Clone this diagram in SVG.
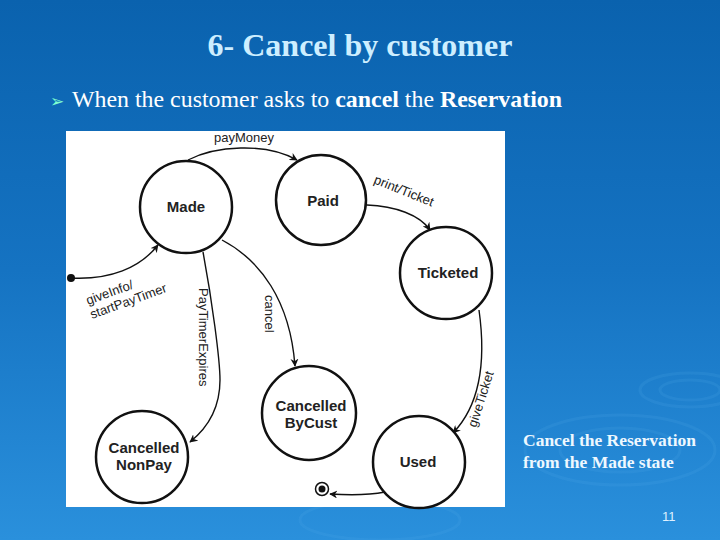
<svg xmlns="http://www.w3.org/2000/svg" width="720" height="540" viewBox="0 0 720 540">
<defs>
<linearGradient id="bg" x1="0" y1="0" x2="0" y2="1">
<stop offset="0" stop-color="#0a62ae"/>
<stop offset="0.5" stop-color="#1573c2"/>
<stop offset="1" stop-color="#2a90dc"/>
</linearGradient>
<marker id="ah" viewBox="0 0 10 10" refX="9" refY="5" markerWidth="8" markerHeight="8" orient="auto" markerUnits="userSpaceOnUse">
<path d="M0,0 L10,5 L0,10 L3,5 Z" fill="#111"/>
</marker>
<style>
.st{fill:#fff;stroke:#111;stroke-width:2.5}
.nl{font-family:"Liberation Sans",Arial,sans-serif;font-weight:bold;font-size:15px;fill:#222;text-anchor:middle}
.el{font-family:"Liberation Sans",Arial,sans-serif;font-size:13px;fill:#222}
.cn{fill:none;stroke:#111;stroke-width:1.4;marker-end:url(#ah)}
.ripple{fill:none;stroke:#5ab0ec;stroke-opacity:0.15;stroke-width:3}
</style>
</defs>
<rect width="720" height="540" fill="url(#bg)"/>
<g id="ripples">
<ellipse class="ripple" cx="690" cy="390" rx="30" ry="10"/>
<ellipse class="ripple" cx="690" cy="390" rx="50" ry="17"/>
<ellipse class="ripple" cx="620" cy="450" rx="60" ry="22"/>
<ellipse class="ripple" cx="620" cy="450" rx="95" ry="35"/>
<ellipse class="ripple" cx="380" cy="520" rx="80" ry="20"/>
</g>
<text x="360" y="56" font-family="Liberation Serif,Times New Roman,serif" font-weight="bold" font-size="32" fill="#cdeeff" text-anchor="middle">6- Cancel by customer</text>
<text x="50" y="107" font-family="DejaVu Sans,sans-serif" font-size="17" fill="#7fffd0">➢</text>
<text x="72" y="107" font-family="Liberation Serif,Times New Roman,serif" font-size="23" fill="#fff" textLength="490" lengthAdjust="spacingAndGlyphs">When the customer asks to <tspan font-weight="bold">cancel</tspan> the <tspan font-weight="bold">Reservation</tspan></text>
<rect x="66" y="131" width="439" height="376" fill="#fff"/>
<g id="connectors">
<path class="cn" d="M188,160 C215,146 265,142 297,160"/>
<path class="cn" d="M367,205 C395,206 420,215 430,230"/>
<path class="cn" d="M479,310 C486,360 480,405 453,433"/>
<path class="cn" d="M385,492 C365,496 345,495 330,494"/>
<path class="cn" d="M71,278 C110,280 140,268 158,245"/>
<path class="cn" d="M203,252 C212,300 220,360 220,380 C220,410 205,430 190,442"/>
<path class="cn" d="M222,240 C260,260 290,300 295,366"/>
<circle cx="71" cy="278" r="4" fill="#111"/>
<text class="el" x="244" y="142" text-anchor="middle">payMoney</text>
<text class="el" transform="translate(373,183) rotate(22)">print/Ticket</text>
<text class="el" transform="translate(476,428) rotate(-72)">giveTicket</text>
<text class="el" transform="translate(88,305) rotate(-20)">giveInfo/</text>
<text class="el" transform="translate(92,319) rotate(-20)">startPayTimer</text>
<text class="el" transform="translate(199,288) rotate(90)">PayTimerExpires</text>
<text class="el" transform="translate(265,295) rotate(90)">cancel</text>
</g>
<g id="made"><circle class="st" cx="186" cy="207" r="46"/><text class="nl" x="186" y="212">Made</text></g>
<g id="paid"><circle class="st" cx="321" cy="200" r="45"/><text class="nl" x="323" y="206">Paid</text></g>
<g id="ticketed"><circle class="st" cx="446" cy="273" r="46"/><text class="nl" x="448" y="278">Ticketed</text></g>
<g id="cancelledByCust"><circle class="st" cx="309" cy="413" r="47"/><text class="nl" x="311" y="411">Cancelled</text><text class="nl" x="311" y="428">ByCust</text></g>
<g id="cancelledNonPay"><circle class="st" cx="142" cy="457" r="46"/><text class="nl" x="144" y="453">Cancelled</text><text class="nl" x="144" y="470">NonPay</text></g>
<g id="used"><circle class="st" cx="419" cy="462" r="46"/><text class="nl" x="418" y="467">Used</text></g>
<g id="final"><circle cx="322" cy="489" r="6.5" fill="#fff" stroke="#111" stroke-width="1.5"/><circle cx="322" cy="489" r="3.5" fill="#111"/></g>
<text x="523" y="446" font-family="Liberation Serif,Times New Roman,serif" font-weight="bold" font-size="17.5" fill="#eef8ff">Cancel the Reservation</text>
<text x="523" y="468" font-family="Liberation Serif,Times New Roman,serif" font-weight="bold" font-size="17.5" fill="#eef8ff">from the Made state</text>
<text x="662" y="521" font-family="Liberation Sans,Arial,sans-serif" font-size="13" fill="#dff0ff">11</text>
</svg>
